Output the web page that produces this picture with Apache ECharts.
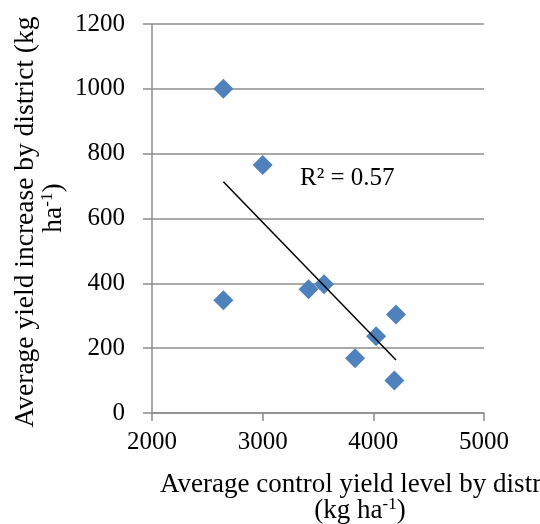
<!DOCTYPE html>
<html>
<head>
<meta charset="utf-8">
<script src="https://cdn.jsdelivr.net/npm/echarts@6/dist/echarts.min.js"></script>
<style>
  html, body { margin: 0; padding: 0; background: #fff; }
  #chart { width: 540px; height: 524px; }
</style>
</head>
<body>
<div id="chart"></div>
<script>
// 各区平均对照产量 (kg/ha) 与平均增产量 (kg/ha)
const controlYield = [2645, 3000, 2645, 3415, 3555, 3835, 4025, 4205, 4190]
const yieldIncrease = [1000, 765, 348, 382, 397, 169, 237, 304, 100]
const xTicks = [2000, 3000, 4000, 5000]
const yTicks = [0, 200, 400, 600, 800, 1000, 1200]

const FONT = '"Liberation Serif", "Times New Roman", serif'
const GRID_COLOR = '#8c8c8c'

// 线性回归（趋势线）
function linearFit(xs, ys) {
  const n = xs.length
  const mx = xs.reduce((a, b) => a + b, 0) / n
  const my = ys.reduce((a, b) => a + b, 0) / n
  let sxy = 0, sxx = 0, syy = 0
  for (let i = 0; i < n; i++) {
    sxy += (xs[i] - mx) * (ys[i] - my)
    sxx += (xs[i] - mx) * (xs[i] - mx)
    syy += (ys[i] - my) * (ys[i] - my)
  }
  const slope = sxy / sxx
  return { slope, intercept: my - slope * mx, r2: (sxy * sxy) / (sxx * syy) }
}

const fit = linearFit(controlYield, yieldIncrease)
const xMin = Math.min(...controlYield)
const xMax = Math.max(...controlYield)
const trend = [xMin, xMax].map((x) => [x, fit.intercept + fit.slope * x])
const points = controlYield.map((x, i) => [x, yieldIncrease[i]])

const myChart = echarts.init(document.getElementById('chart'))
const option = {
  animation: false,
  grid: { left: 152, right: 56, top: 24, bottom: 111 },
  xAxis: {
    type: 'value',
    min: xTicks[0],
    max: xTicks[xTicks.length - 1],
    interval: 1000,
    axisLine: { show: true, lineStyle: { color: GRID_COLOR, width: 1.5 } },
    axisTick: { show: true, length: 8, lineStyle: { color: GRID_COLOR, width: 1.5 } },
    splitLine: { show: false },
    axisLabel: {
      margin: 17,
      color: '#000',
      fontSize: 25,
      fontFamily: FONT,
      formatter: (v) => String(v)
    }
  },
  yAxis: {
    type: 'value',
    min: yTicks[0],
    max: yTicks[yTicks.length - 1],
    interval: 200,
    axisLine: { show: true, lineStyle: { color: GRID_COLOR, width: 1.5 } },
    axisTick: { show: true, length: 9, lineStyle: { color: GRID_COLOR, width: 1.5 } },
    splitLine: { show: true, lineStyle: { color: GRID_COLOR, width: 1.5 } },
    axisLabel: {
      margin: 27,
      color: '#000',
      fontSize: 25,
      fontFamily: FONT,
      formatter: (v) => String(v)
    }
  },
  series: [
    {
      name: 'district',
      type: 'scatter',
      symbol: 'diamond',
      symbolSize: 20,
      itemStyle: { color: '#4f81bd', opacity: 1 },
      data: points
    },
    {
      name: 'trend',
      type: 'line',
      symbol: 'none',
      lineStyle: { color: '#000', width: 1.5 },
      data: trend
    }
  ],
  graphic: [
    {
      type: 'text',
      left: 300,
      top: 166,
      style: {
        text: 'R² = ' + fit.r2.toFixed(2),
        fill: '#000',
        fontSize: 25,
        fontFamily: FONT
      }
    },
    {
      type: 'text',
      x: 26,
      y: 222,
      rotation: Math.PI / 2,
      style: {
        text: 'Average yield increase by district (kg',
        fill: '#000',
        fontSize: 27.5,
        fontFamily: FONT,
        align: 'center',
        verticalAlign: 'middle'
      }
    },
    {
      type: 'text',
      x: 54,
      y: 208,
      rotation: Math.PI / 2,
      style: {
        text: '{t|ha}{s|-1}{t|)}',
        fill: '#000',
        align: 'center',
        verticalAlign: 'middle',
        rich: {
          t: { fontSize: 27.5, fontFamily: FONT, fill: '#000' },
          s: { fontSize: 17, fontFamily: FONT, fill: '#000', verticalAlign: 'top', padding: [0, 0, 12, 0] }
        }
      }
    },
    {
      type: 'text',
      x: 160,
      y: 485,
      style: {
        text: 'Average control yield level by district',
        fill: '#000',
        fontSize: 27,
        fontFamily: FONT,
        align: 'left',
        verticalAlign: 'middle'
      }
    },
    {
      type: 'text',
      x: 360,
      y: 511,
      style: {
        text: '{t|(kg ha}{s|-1}{t|)}',
        fill: '#000',
        align: 'center',
        verticalAlign: 'middle',
        rich: {
          t: { fontSize: 27, fontFamily: FONT, fill: '#000' },
          s: { fontSize: 17, fontFamily: FONT, fill: '#000', verticalAlign: 'top', padding: [0, 0, 12, 0] }
        }
      }
    }
  ]
}
myChart.setOption(option)
</script>
</body>
</html>
